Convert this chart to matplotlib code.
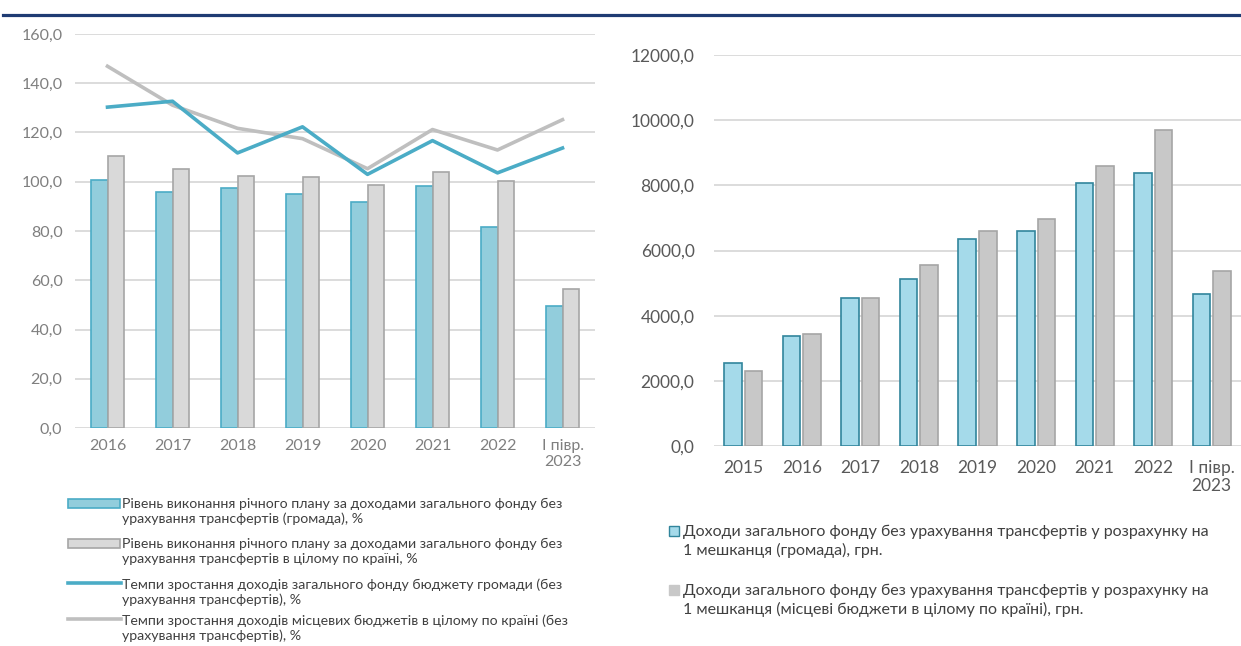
import matplotlib
matplotlib.use("Agg")
import matplotlib.pyplot as plt
import numpy as np
from matplotlib.patches import Rectangle
from matplotlib.lines import Line2D
from matplotlib.ticker import FuncFormatter

plt.rcParams['font.family'] = ['Lato', 'DejaVu Sans']

# ---------------- data ----------------
left_cats = ['2016', '2017', '2018', '2019', '2020', '2021', '2022', 'І півр.\n2023']
plan_hromada = [100.6, 95.9, 97.5, 95.2, 91.9, 98.3, 81.5, 49.4]
plan_country = [110.5, 105.3, 102.5, 101.8, 98.6, 104.0, 100.5, 56.5]
growth_hromada = [130.3, 132.7, 111.7, 122.3, 103.0, 116.7, 103.6, 113.7]
growth_country = [146.9, 131.1, 121.7, 117.5, 105.3, 121.2, 112.9, 125.2]

right_cats = ['2015', '2016', '2017', '2018', '2019', '2020', '2021', '2022', 'І півр.\n2023']
percap_hromada = [2537, 3386, 4542, 5136, 6343, 6598, 8061, 8368, 4665]
percap_country = [2312, 3437, 4532, 5555, 6588, 6957, 8583, 9698, 5371]

left_labels = [
    'Рівень виконання річного плану за доходами загального фонду без\nурахування трансфертів (громада), %',
    'Рівень виконання річного плану за доходами загального фонду без\nурахування трансфертів в цілому по країні, %',
    'Темпи зростання доходів загального фонду бюджету громади (без\nурахування трансфертів), %',
    'Темпи зростання доходів місцевих бюджетів в цілому по країні (без\nурахування трансфертів), %',
]
right_labels = [
    'Доходи загального фонду без урахування трансфертів у розрахунку на\n1 мешканця (громада), грн.',
    'Доходи загального фонду без урахування трансфертів у розрахунку на\n1 мешканця (місцеві бюджети в цілому по країні), грн.',
]

W, H = 1241, 646
fig = plt.figure(figsize=(W / 100, H / 100), dpi=100)

def fx(px):
    return px / W

def fy(py):
    return 1 - py / H

comma = FuncFormatter(lambda v, p: f"{v:.1f}".replace('.', ','))
GRID = '#D9D9D9'

# top navy rule
fig.add_artist(Line2D([fx(3), fx(1241)], [fy(15), fy(15)], color='#1F3B73', lw=2.3))

# ---------------- left chart ----------------
ax1 = fig.add_axes([fx(75), fy(428), fx(520), (428 - 34) / H])
x = np.arange(len(left_cats))
bw = 0.25
ax1.bar(x - bw / 2, plan_hromada, bw, color='#92CDDC', edgecolor='#4BACC6', lw=1.2, zorder=2)
ax1.bar(x + bw / 2, plan_country, bw, color='#D9D9D9', edgecolor='#A6A6A6', lw=1.2, zorder=2)
ax1.plot(x, growth_country, color='#BFBFBF', lw=2.6, zorder=3, solid_joinstyle='round')
ax1.plot(x, growth_hromada, color='#4BACC6', lw=2.6, zorder=4, solid_joinstyle='round')
ax1.set_xlim(-0.5, len(left_cats) - 0.5)
ax1.set_ylim(0, 160)
ax1.set_yticks(np.arange(0, 161, 20))
ax1.yaxis.set_major_formatter(comma)
ax1.set_xticks(x)
ax1.set_xticklabels(left_cats)
ax1.grid(axis='y', color=GRID, lw=1.3, zorder=0)
ax1.set_axisbelow(True)
for s in ax1.spines.values():
    s.set_visible(False)
ax1.tick_params(length=0, colors='#7F7F7F', labelsize=11.5)
ax1.tick_params(axis='y', pad=9)
ax1.tick_params(axis='x', pad=8)

# ---------------- right chart ----------------
ax2 = fig.add_axes([fx(714), fy(446), fx(527), (446 - 55) / H])
x2 = np.arange(len(right_cats))
bw2 = 0.3
gap = 0.05
ax2.bar(x2 - bw2 / 2 - gap / 2, percap_hromada, bw2, color='#A5DAEA', edgecolor='#31859C', lw=1.2, zorder=2)
ax2.bar(x2 + bw2 / 2 + gap / 2, percap_country, bw2, color='#C8C8C8', edgecolor='#A6A6A6', lw=1.2, zorder=2)
ax2.set_xlim(-0.5, len(right_cats) - 0.5)
ax2.set_ylim(0, 12000)
ax2.set_yticks(np.arange(0, 12001, 2000))
ax2.yaxis.set_major_formatter(comma)
ax2.set_xticks(x2)
ax2.set_xticklabels(right_cats)
ax2.grid(axis='y', color=GRID, lw=1.3, zorder=0)
ax2.set_axisbelow(True)
for s in ax2.spines.values():
    s.set_visible(False)
ax2.tick_params(length=0, colors='#595959', labelsize=12.5)
ax2.tick_params(axis='y', pad=14)
ax2.tick_params(axis='x', pad=10)

# ---------------- left legend ----------------
leg_y = [503, 543, 583, 619]
for i, (lab, yy) in enumerate(zip(left_labels, leg_y)):
    if i == 0:
        fig.add_artist(Rectangle((fx(68), fy(yy + 5)), fx(52), 9 / H, facecolor='#92CDDC',
                                 edgecolor='#4BACC6', lw=1.2))
    elif i == 1:
        fig.add_artist(Rectangle((fx(68), fy(yy + 5)), fx(52), 9 / H, facecolor='#D9D9D9',
                                 edgecolor='#A6A6A6', lw=1.2))
    elif i == 2:
        fig.add_artist(Line2D([fx(68), fx(121)], [fy(yy), fy(yy)], color='#4BACC6', lw=2.6))
    else:
        fig.add_artist(Line2D([fx(68), fx(121)], [fy(yy), fy(yy)], color='#BFBFBF', lw=2.6))
    fig.text(fx(122), fy(yy - 5), lab, ha='left', va='top', fontsize=10.2, color='#404040',
             linespacing=1.25)

# ---------------- right legend ----------------
rleg_y = [531, 590]
rcols = [('#A5DAEA', '#31859C'), ('#C8C8C8', '#C8C8C8')]
for (fc, ec), lab, yy in zip(rcols, right_labels, rleg_y):
    fig.add_artist(Rectangle((fx(669), fy(yy + 5)), fx(10), 10 / H, facecolor=fc, edgecolor=ec, lw=1.0))
    fig.text(fx(683), fy(yy - 6), lab, ha='left', va='top', fontsize=11.5, color='#404040',
             linespacing=1.3)

fig.savefig('out.png', dpi=100)
